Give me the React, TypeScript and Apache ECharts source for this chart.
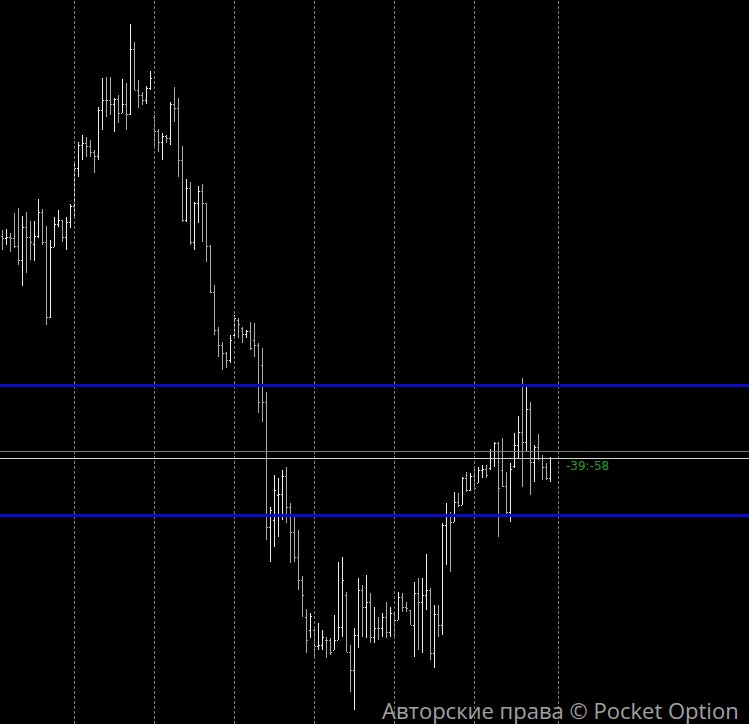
import React, { useEffect, useRef } from "react";
import * as echarts from "echarts";

// OHLC bars (price in points), one per period
const barHigh = [
  494, 495, 491, 511, 516, 508, 512, 503, 503, 525,
  515, 498, 484, 507, 514, 504, 507, 520, 561, 582,
  589, 587, 584, 574, 617, 646, 647, 647, 626, 629,
  645, 641, 700, 682, 644, 632, 638, 653, 609, 595,
  591, 589, 622, 637, 626, 578, 545, 542, 522, 538,
  540, 521, 479, 439, 397, 382, 372, 389, 409, 406,
  397, 394, 402, 401, 381, 376, 332, 217, 249, 246,
  254, 257, 221, 207, 194, 148, 115, 111, 97, 101,
  94, 87, 86, 109, 162, 167, 132, 79, 96, 146,
  139, 149, 131, 117, 107, 111, 122, 117, 112, 132,
  131, 122, 114, 142, 146, 146, 170, 136, 119, 119,
  201, 221, 212, 232, 231, 247, 252, 251, 257, 257,
  259, 259, 275, 282, 282, 286, 252, 261, 291, 308,
  346, 337, 322, 279, 290, 269, 261, 267,
];
const barLow = [
  474, 479, 472, 476, 459, 438, 451, 464, 463, 486,
  479, 399, 406, 477, 497, 482, 474, 496, 506, 547,
  564, 567, 567, 551, 564, 594, 607, 609, 592, 601,
  611, 594, 609, 634, 616, 619, 620, 634, 576, 572,
  564, 581, 579, 602, 547, 502, 502, 479, 474, 501,
  482, 462, 431, 389, 367, 354, 356, 361, 387, 386,
  381, 386, 374, 367, 311, 302, 184, 162, 177, 187,
  204, 201, 161, 162, 134, 107, 71, 86, 67, 74,
  74, 66, 69, 74, 84, 87, 72, 32, 14, 76,
  87, 86, 81, 81, 84, 87, 86, 87, 86, 104,
  112, 112, 99, 67, 74, 71, 114, 64, 56, 87,
  89, 159, 152, 202, 217, 219, 232, 233, 234, 241,
  246, 246, 254, 257, 187, 237, 207, 202, 256, 266,
  237, 272, 229, 242, 264, 244, 244, 242,
];
const barOpen = [
  488, 486, 487, 486, 478, 464, 497, 487, 480, 488,
  512, 482, 407, 477, 500, 504, 487, 502, 518, 556,
  579, 581, 578, 572, 568, 614, 624, 624, 620, 625,
  611, 620, 610, 675, 634, 629, 624, 636, 607, 593,
  582, 588, 586, 620, 616, 564, 504, 536, 482, 521,
  533, 521, 478, 432, 394, 379, 371, 364, 389, 404,
  396, 390, 393, 384, 379, 359, 322, 197, 204, 229,
  230, 248, 217, 192, 167, 144, 107, 94, 94, 78,
  79, 84, 84, 74, 84, 97, 129, 72, 54, 89,
  134, 117, 122, 87, 96, 96, 107, 92, 111, 104,
  127, 117, 114, 99, 131, 122, 129, 134, 71, 110,
  99, 199, 209, 202, 222, 219, 246, 234, 248, 241,
  254, 255, 256, 273, 281, 254, 238, 212, 258, 279,
  292, 282, 315, 262, 277, 266, 257, 246,
];
const barClose = [
  486, 487, 486, 478, 464, 497, 487, 482, 488, 512,
  482, 407, 477, 500, 504, 487, 502, 518, 556, 579,
  581, 578, 572, 568, 614, 624, 624, 620, 625, 611,
  620, 610, 675, 634, 629, 624, 636, 646, 593, 582,
  588, 586, 620, 616, 564, 504, 536, 482, 521, 533,
  521, 478, 432, 394, 379, 371, 364, 384, 406, 400,
  390, 393, 376, 379, 322, 322, 197, 214, 234, 230,
  248, 217, 192, 167, 144, 129, 84, 108, 78, 79,
  87, 84, 72, 84, 97, 144, 72, 54, 89, 134,
  117, 122, 87, 96, 96, 107, 92, 111, 104, 127,
  117, 116, 99, 131, 122, 129, 134, 71, 110, 99,
  199, 209, 202, 222, 219, 246, 234, 248, 236, 254,
  255, 249, 273, 281, 236, 238, 212, 255, 279, 292,
  282, 315, 262, 277, 266, 257, 246, 266,
];

// vertical period separators (bar index)
const separatorBars = [18, 38, 58, 78, 98, 118, 139];

// horizontal levels
const resistanceLevel = 338.5;
const supportLevel = 208.5;
const askLevel = 272.5;
const bidLevel = 265.5;

const timerText = "-39:-58";
const watermarkText = "Авторские права © Pocket Option";

const UP_COLOR = "#f4ebe2";
const DOWN_COLOR = "#ababab";

export default function App() {
  const ref = useRef<HTMLDivElement>(null);

  useEffect(() => {
    const chart = echarts.init(ref.current as HTMLDivElement, null, { renderer: "svg" });
    const data = barOpen.map((o, i) => [i, o, barClose[i], barLow[i], barHigh[i]]);

    chart.setOption({
      animation: false,
      backgroundColor: "#000000",
      grid: { left: 0, right: 0, top: 0, bottom: 0 },
      xAxis: { type: "value", min: -0.625, max: 186.625, show: false },
      yAxis: { type: "value", min: 0, max: 724, show: false },
      series: [
        {
          type: "line",
          data: [],
          z: 1,
          markLine: {
            silent: true,
            symbol: ["none", "none"],
            label: { show: false },
            lineStyle: { color: "#7c7c7c", width: 1, type: [3, 2] },
            data: separatorBars.map((b) => ({ xAxis: b })),
          },
        },
        {
          type: "line",
          data: [],
          z: 2,
          markLine: {
            silent: true,
            symbol: ["none", "none"],
            label: { show: false },
            data: [
              { yAxis: resistanceLevel, lineStyle: { color: "#0a0ac8", width: 3, type: "solid" } },
              { yAxis: supportLevel, lineStyle: { color: "#0a0ac8", width: 3, type: "solid" } },
              { yAxis: askLevel, lineStyle: { color: "#7a7a7a", width: 1, type: "solid" } },
              { yAxis: bidLevel, lineStyle: { color: "#d0d0d0", width: 1, type: "solid" } },
            ],
          },
        },
        {
          type: "custom",
          z: 3,
          data,
          encode: { x: 0, y: [1, 2, 3, 4] },
          renderItem: (params: any, api: any) => {
            const i = api.value(0);
            const ov = api.value(1);
            const cv = api.value(2);
            const o = api.coord([i, ov]);
            const c = api.coord([i, cv]);
            const l = api.coord([i, api.value(3)]);
            const h = api.coord([i, api.value(4)]);
            const x = Math.floor(h[0]);
            const color = cv > ov ? UP_COLOR : DOWN_COLOR;
            const yh = Math.round(h[1]);
            const yl = Math.round(l[1]);
            const yo = Math.round(o[1]);
            const yc = Math.round(c[1]);
            return {
              type: "group",
              children: [
                { type: "rect", shape: { x, y: yh, width: 1, height: Math.max(1, yl - yh) }, style: { fill: color } },
                { type: "rect", shape: { x: x - 1, y: yo, width: 1, height: 1 }, style: { fill: color } },
                { type: "rect", shape: { x: x + 1, y: yc, width: 1, height: 1 }, style: { fill: color } },
              ],
            };
          },
        },
      ],
      graphic: [
        {
          type: "text",
          x: 566,
          y: 466,
          z: 10,
          style: {
            text: timerText,
            fill: "#22a022",
            font: '12px "DejaVu Sans"',
            verticalAlign: "middle",
          },
        },
        {
          type: "text",
          x: 382,
          y: 710,
          z: 10,
          style: {
            text: watermarkText,
            fill: "#a2a2a2",
            font: '22px "Open Sans"',
            verticalAlign: "middle",
          },
        },
      ],
    });

    return () => chart.dispose();
  }, []);

  return (
    <div
      ref={ref}
      style={{ position: "absolute", left: 0, top: 0, width: 749, height: 724 }}
    />
  );
}
